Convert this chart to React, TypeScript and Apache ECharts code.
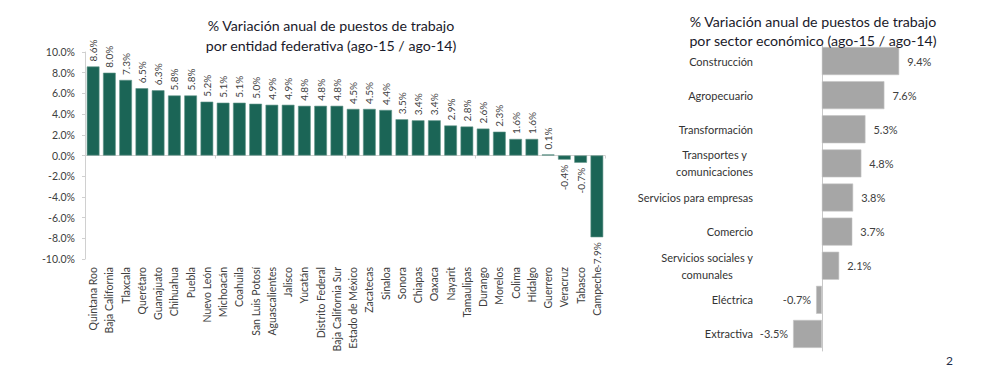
import React, { useEffect, useRef } from "react";
import * as echarts from "echarts";

const states = [
  "Quintana Roo", "Baja California", "Tlaxcala", "Querétaro", "Guanajuato", "Chihuahua",
  "Puebla", "Nuevo León", "Michoacán", "Coahuila", "San Luis Potosí", "Aguascalientes",
  "Jalisco", "Yucatán", "Distrito Federal", "Baja California Sur", "Estado de México",
  "Zacatecas", "Sinaloa", "Sonora", "Chiapas", "Oaxaca", "Nayarit", "Tamaulipas",
  "Durango", "Morelos", "Colima", "Hidalgo", "Guerrero", "Veracruz", "Tabasco", "Campeche",
];
const stateValues = [
  8.6, 8.0, 7.3, 6.5, 6.3, 5.8, 5.8, 5.2, 5.1, 5.1, 5.0, 4.9, 4.9, 4.8, 4.8, 4.8, 4.5,
  4.5, 4.4, 3.5, 3.4, 3.4, 2.9, 2.8, 2.6, 2.3, 1.6, 1.6, 0.1, -0.4, -0.7, -7.9,
];
const sectors = [
  "Construcción", "Agropecuario", "Transformación", "Transportes y\ncomunicaciones",
  "Servicios para empresas", "Comercio", "Servicios sociales y\ncomunales", "Eléctrica", "Extractiva",
];
const sectorValues = [9.4, 7.6, 5.3, 4.8, 3.8, 3.7, 2.1, -0.7, -3.5];

const leftTitle = "% Variación anual de puestos de trabajo\npor entidad federativa (ago-15 / ago-14)";
const rightTitle = "% Variación anual de puestos de trabajo\npor sector económico (ago-15 / ago-14)";
const yTicks = { min: -10, max: 10, interval: 2 };

const FONT = "Lato, 'Liberation Sans', sans-serif";
const pct = (v: number) => v.toFixed(1) + "%";

export default function App() {
  const ref = useRef<HTMLDivElement>(null);
  useEffect(() => {
    document.body.style.margin = "0";
    if (!ref.current) return;
    const chart = echarts.init(ref.current, undefined, { renderer: "svg" });
    const option: any = {
      animation: false,
      backgroundColor: "#ffffff",
      textStyle: { fontFamily: FONT },
      title: [
        {
          text: leftTitle,
          left: 326,
          top: 10,
          textAlign: "center",
          textStyle: { fontFamily: FONT, fontSize: 14.2, fontWeight: "normal", color: "#1a1a2a", lineHeight: 20 },
        },
        {
          text: rightTitle,
          left: 808,
          top: 7,
          textAlign: "center",
          textStyle: { fontFamily: FONT, fontSize: 14.2, fontWeight: "normal", color: "#1a1a2a", lineHeight: 19 },
        },
      ],
      grid: [
        { left: 85, width: 520, top: 52, bottom: 109, containLabel: false },
        { left: 789, width: 148, top: 44, bottom: 17, containLabel: false },
      ],
      xAxis: [
        {
          type: "category",
          gridIndex: 0,
          data: states,
          position: "bottom",
          axisLine: { show: true, onZero: true, lineStyle: { color: "#d0d0d0", width: 1 } },
          axisTick: { show: true, length: 3, lineStyle: { color: "#d0d0d0" } },
          axisLabel: { show: false },
        },
        {
          type: "category",
          gridIndex: 0,
          data: states,
          position: "bottom",
          axisLine: { show: false, onZero: false },
          axisTick: { show: false },
          axisLabel: {
            show: true,
            interval: 0,
            rotate: 90,
            margin: 8,
            fontSize: 10.5,
            color: "#404040",
            fontFamily: FONT,
          },
        },
        {
          type: "value",
          gridIndex: 1,
          min: -4,
          max: 14,
          show: false,
          splitLine: { show: false },
        },
      ],
      yAxis: [
        {
          type: "value",
          gridIndex: 0,
          min: yTicks.min,
          max: yTicks.max,
          interval: yTicks.interval,
          axisLine: { show: true, lineStyle: { color: "#d0d0d0" } },
          axisTick: { show: true, length: 3, lineStyle: { color: "#d0d0d0" } },
          splitLine: { show: false },
          axisLabel: { formatter: (v: number) => pct(v), fontSize: 10.5, color: "#404040", margin: 10, fontFamily: FONT },
        },
        {
          type: "category",
          gridIndex: 1,
          data: sectors,
          inverse: true,
          position: "left",
          axisLine: { show: true, onZero: true, lineStyle: { color: "#c8c8c8" } },
          axisTick: { show: false },
          axisLabel: { show: false },
        },
        {
          type: "category",
          gridIndex: 1,
          data: sectors,
          inverse: true,
          position: "left",
          axisLine: { show: false, onZero: false },
          axisTick: { show: false },
          axisLabel: {
            show: true,
            interval: 0,
            margin: 36,
            fontSize: 11,
            color: "#333333",
            fontFamily: FONT,
            lineHeight: 17,
            formatter: (v: string) => v.split("\n").map((s) => "{c|" + s + "}").join("\n"),
            rich: { c: { align: "center", fontSize: 11, color: "#333333", fontFamily: FONT, lineHeight: 17 } },
          },
        },
      ],
      series: [
        {
          type: "bar",
          xAxisIndex: 0,
          yAxisIndex: 0,
          barCategoryGap: "22%",
          itemStyle: { color: "#1b6556", borderColor: "#5f9488", borderWidth: 0.6 },
          data: stateValues.map((v) => ({
            value: v,
            label: {
              show: true,
              position: v >= 0 ? "top" : "bottom",
              rotate: 90,
              align: v >= 0 ? "left" : "right",
              verticalAlign: "middle",
              distance: 5,
              fontSize: 10,
              color: "#404040",
              fontFamily: FONT,
              formatter: () => pct(v),
            },
          })),
        },
        {
          type: "bar",
          xAxisIndex: 2,
          yAxisIndex: 1,
          barCategoryGap: "18%",
          itemStyle: { color: "#a6a6a6", borderColor: "#c4c4c4", borderWidth: 0.6 },
          data: sectorValues.map((v) => ({
            value: v,
            label: {
              show: true,
              position: v >= 0 ? "right" : "left",
              distance: v >= 0 ? 8 : 5,
              fontSize: 11,
              color: "#404040",
              fontFamily: FONT,
              formatter: () => pct(v),
            },
          })),
        },
      ],
      graphic: [
        {
          type: "text",
          left: 946,
          top: 354,
          style: { text: "2", fontSize: 12, fill: "#1f2d4a", fontFamily: FONT },
        },
      ],
    };
    chart.setOption(option);
    return () => chart.dispose();
  }, []);
  return <div ref={ref} style={{ width: 1000, height: 368 }} />;
}
